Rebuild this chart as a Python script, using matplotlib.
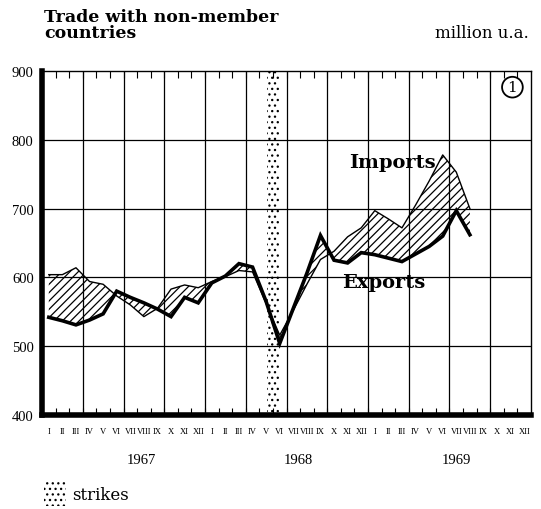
import matplotlib
matplotlib.use("Agg")
import matplotlib.pyplot as plt
import numpy as np
from matplotlib.patches import Rectangle

# monthly values, Jan 1967 .. Aug 1969 (million u.a.)
imports = [604, 604, 614, 594, 590, 573, 560, 543, 555, 583, 589, 585,
           594, 601, 610, 608, 562, 516, 552, 590, 626, 638, 659, 672,
           697, 685, 672, 705, 740, 778, 753, 700]
exports = [542, 537, 531, 538, 547, 580, 571, 563, 554, 543, 571, 563,
           592, 602, 620, 615, 565, 504, 555, 606, 661, 625, 621, 636,
           633, 628, 623, 634, 645, 660, 697, 662]
months = ["I", "II", "III", "IV", "V", "VI", "VII", "VIII", "IX", "X", "XI", "XII"]
years = ["1967", "1968", "1969"]
strike_span = (16.55, 17.45)

serif = "DejaVu Serif"
num_font = "Liberation Serif"
plt.rcParams["hatch.linewidth"] = 0.9

x = np.arange(len(imports)) + 0.5

fig = plt.figure(figsize=(5.41, 5.10), dpi=100)
W, H = 541, 510
ax = fig.add_axes([42 / W, (H - 416) / H, (531 - 42) / W, (416 - 72) / H])

ax.fill_between(x, exports, imports, facecolor="none", edgecolor="black",
                hatch="////", linewidth=0)
ax.plot(x, imports, color="black", linewidth=1.0)
ax.plot(x, exports, color="black", linewidth=2.6, solid_joinstyle="miter")

ax.axvspan(*strike_span, facecolor="none", edgecolor="black", hatch="...", linewidth=0)

ax.set_xlim(0, 36)
ax.set_ylim(400, 900)

ax.set_yticks([400, 500, 600, 700, 800, 900])
ax.set_yticklabels(["400", "500", "600", "700", "800", "900"], family=num_font, fontsize=10.5)
ax.tick_params(axis="y", length=0, pad=6)

ax.set_xticks(np.arange(36) + 0.5)
ax.set_xticklabels(months * 3, family=num_font, fontsize=6.2)
ax.set_xticks(np.arange(1, 36), minor=True)
ax.tick_params(axis="x", which="major", length=0, pad=9)
ax.tick_params(axis="x", which="minor", direction="in", length=5, width=0.8,
               top=True, bottom=True, color="black")

for v in [500, 600, 700, 800]:
    ax.axhline(v, color="black", linewidth=0.9)
for m in range(3, 36, 3):
    ax.axvline(m, color="black", linewidth=0.9)

ax.spines["left"].set_linewidth(4)
ax.spines["bottom"].set_linewidth(4)
ax.spines["top"].set_linewidth(1)
ax.spines["right"].set_linewidth(1)

ax.text(22.6, 768, "Imports", family=serif, fontweight="bold", fontsize=14, va="center")
ax.text(22.1, 594, "Exports", family=serif, fontweight="bold", fontsize=14, va="center")

ax.text(0.962, 0.953, "1", transform=ax.transAxes, ha="center", va="center",
        family=serif, fontsize=11,
        bbox=dict(boxstyle="circle,pad=0.22", facecolor="white", edgecolor="black", linewidth=1.3))

for i, yr in enumerate(years):
    ax.text(7.3 + 11.6 * i, 400 - 45 / 0.688, yr, family=num_font, fontsize=10.5,
            ha="center", va="center")

fig.text(44 / W, 1 - 22 / H, "Trade with non-member", family=serif, fontweight="bold",
         fontsize=12.5, va="baseline")
fig.text(44 / W, 1 - 38 / H, "countries", family=serif, fontweight="bold",
         fontsize=12.5, va="baseline")
fig.text(529 / W, 1 - 38 / H, "million u.a.", family=serif, fontsize=12,
         ha="right", va="baseline")

fig.add_artist(Rectangle((44 / W, 1 - 507 / H), 22 / W, 24 / H, transform=fig.transFigure,
                         facecolor="none", edgecolor="black", hatch="...", linewidth=0))
fig.text(72 / W, 1 - 500 / H, "strikes", family=serif, fontsize=12, va="baseline")

fig.savefig("out.png", dpi=100)
